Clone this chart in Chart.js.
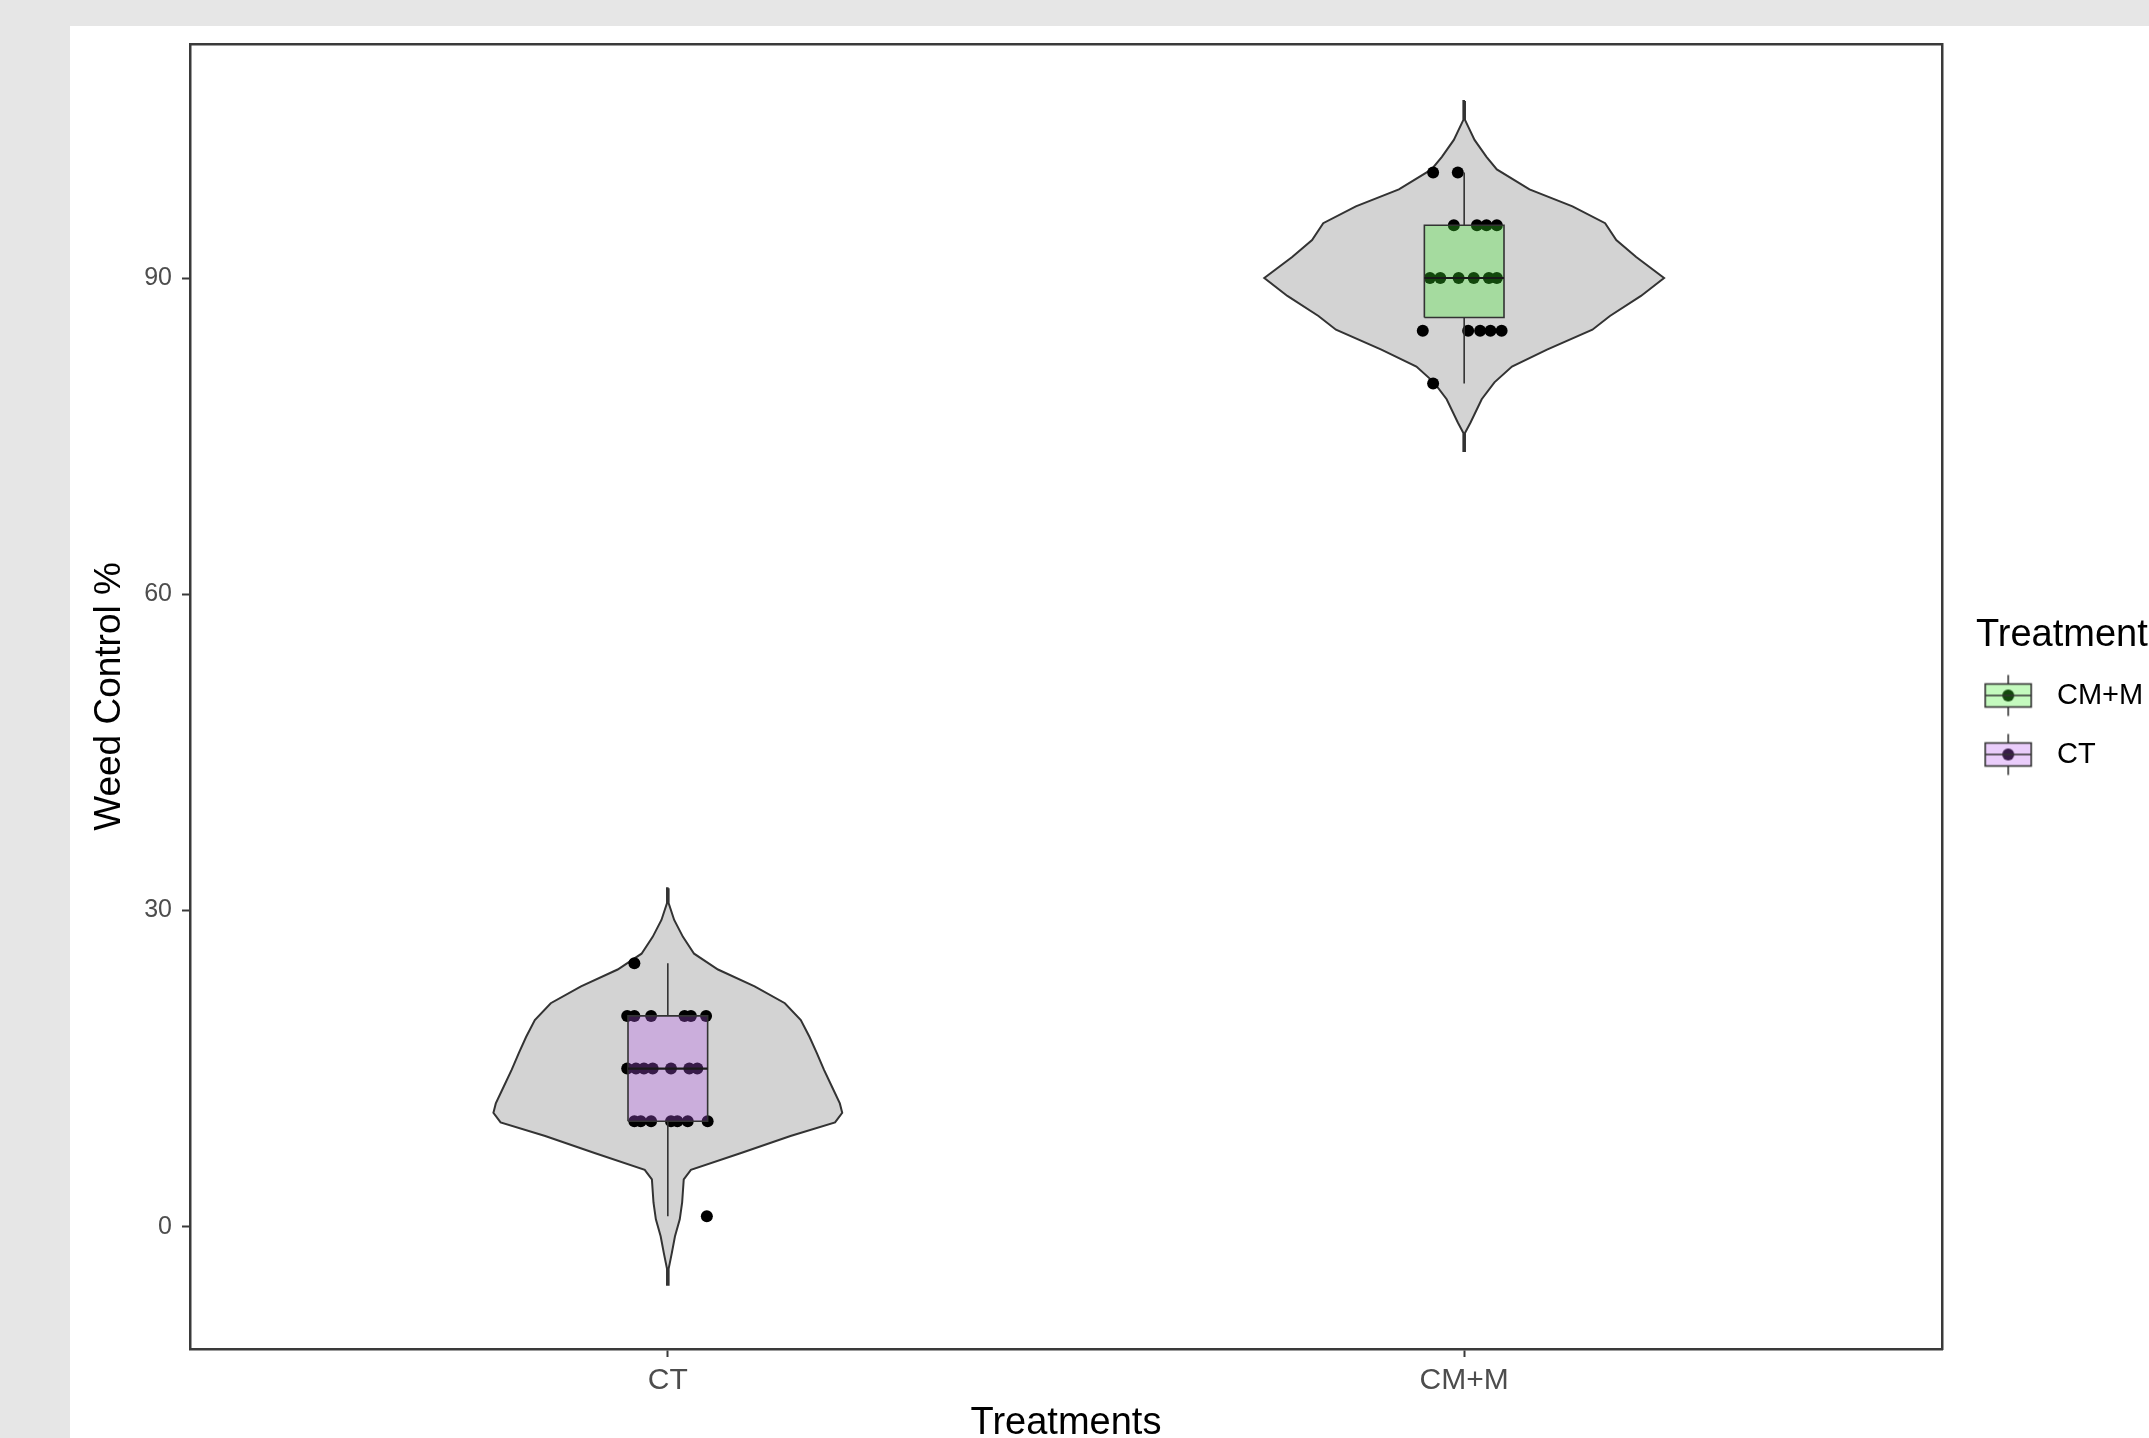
<!DOCTYPE html>
<html><head><meta charset="utf-8">
<script src="https://cdn.jsdelivr.net/npm/chart.js@4.4.0/dist/chart.umd.min.js"></script>
<style>
html,body{margin:0;padding:0;background:#E6E6E6;width:2149px;height:1438px;overflow:hidden;}
#panel{position:absolute;left:70px;top:26px;width:2079px;height:1412px;background:#ffffff;overflow:hidden;}
canvas{display:block;}
</style></head><body>
<div id="panel"><canvas id="c" width="2079" height="1412"></canvas></div>
<script>
// ---------------- data ----------------
const categories = ['CT', 'CM+M'];
const legendLabels = ['CM+M', 'CT'];
const yTickValues = [0, 30, 60, 90];

const ctValues = [25, 20, 20, 20, 20, 20, 20, 15, 15, 15, 15, 15, 15, 15, 10, 10, 10, 10, 10, 10, 10, 1];
const ctJitter = [-0.042, -0.051, -0.042, -0.021, 0.021, 0.029, 0.048, -0.051, -0.040, -0.030, -0.019, 0.004, 0.027, 0.037, -0.042, -0.034, -0.021, 0.004, 0.012, 0.025, 0.050, 0.049];
const cmValues = [100, 100, 95, 95, 95, 95, 90, 90, 90, 90, 90, 90, 85, 85, 85, 85, 85, 80];
const cmJitter = [-0.039, -0.008, -0.013, 0.016, 0.028, 0.041, -0.043, -0.030, -0.007, 0.012, 0.031, 0.041, -0.052, 0.005, 0.020, 0.033, 0.047, -0.039];

// box-plot statistics, in category order [CT, CM+M]
const whiskerLow = [1, 80];
const boxQ1 = [10, 86.25];
const boxMedian = [15, 90];
const boxQ3 = [20, 95];
const whiskerHigh = [25, 100];

// violin outlines: y levels and half-widths (category units)
const ctViolinY = [32.1, 30.7, 29.1, 27.5, 25.9, 24.4, 22.8, 21.2, 19.6, 18.0, 16.5, 14.9, 13.3, 11.7, 10.8, 9.9, 8.6, 7.0, 5.4, 4.5, 2.3, 0.7, -0.9, -2.5, -4.0, -5.5];
const ctViolinHalf = [0.001, 0.001, 0.008, 0.019, 0.033, 0.063, 0.109, 0.147, 0.167, 0.178, 0.187, 0.196, 0.206, 0.216, 0.219, 0.210, 0.154, 0.092, 0.029, 0.020, 0.018, 0.015, 0.009, 0.005, 0.001, 0.001];
const cmViolinY = [106.8, 105.0, 103.1, 101.5, 100.3, 98.4, 96.8, 95.2, 93.6, 92.0, 90.0, 88.3, 86.4, 85.1, 83.2, 81.6, 80.1, 78.5, 76.3, 75.3, 73.6];
const cmViolinHalf = [0.001, 0.001, 0.013, 0.028, 0.041, 0.082, 0.136, 0.177, 0.191, 0.216, 0.251, 0.222, 0.183, 0.161, 0.104, 0.060, 0.038, 0.022, 0.008, 0.001, 0.001];

// ---------------- styling ----------------
const FONT = "'Liberation Sans', Arial, Helvetica, sans-serif";
const INK = '#333333';
const FRAME = '#3a3a3a';
const boxFills = ['rgba(184,88,241,0.30)', 'rgba(61,237,41,0.30)']; // CT, CM+M
const legendFills = {'CM+M': boxFills[1], 'CT': boxFills[0]};
const BOX_HALF = 0.05;

Chart.defaults.font.family = FONT;

function catPos(i) { return i + 1; }

function violinPolygon(center, ys, halves) {
  const pts = [];
  for (let i = 0; i < ys.length; i++) pts.push({x: center + halves[i], y: ys[i]});
  for (let i = ys.length - 1; i >= 0; i--) pts.push({x: center - halves[i], y: ys[i]});
  pts.push({x: center + halves[0], y: ys[0]});
  return pts;
}
function boxPolygon(i) {
  const c = catPos(i);
  return [
    {x: c - BOX_HALF, y: boxQ1[i]}, {x: c + BOX_HALF, y: boxQ1[i]},
    {x: c + BOX_HALF, y: boxQ3[i]}, {x: c - BOX_HALF, y: boxQ3[i]},
    {x: c - BOX_HALF, y: boxQ1[i]}
  ];
}
function whiskerSegments() {
  const pts = [];
  categories.forEach((_, i) => {
    const c = catPos(i);
    pts.push({x: c, y: whiskerHigh[i]}, {x: c, y: boxQ3[i]}, {x: c, y: null});
    pts.push({x: c, y: boxQ1[i]}, {x: c, y: whiskerLow[i]}, {x: c, y: null});
  });
  return pts;
}
function medianSegments() {
  const pts = [];
  categories.forEach((_, i) => {
    const c = catPos(i);
    pts.push({x: c - BOX_HALF, y: boxMedian[i]}, {x: c + BOX_HALF, y: boxMedian[i]}, {x: c, y: null});
  });
  return pts;
}
function jittered(i, values, jitter) {
  return values.map((v, k) => ({x: catPos(i) + jitter[k], y: v}));
}

function makeKey(fill) {
  const cv = document.createElement('canvas');
  cv.width = 100; cv.height = 50;
  const g = cv.getContext('2d');
  const cx = 34, cy = 25, bw = 46, bh = 23;
  g.strokeStyle = INK; g.lineWidth = 1.6;
  g.beginPath();
  g.moveTo(cx, cy - bh / 2 - 9); g.lineTo(cx, cy - bh / 2);
  g.moveTo(cx, cy + bh / 2); g.lineTo(cx, cy + bh / 2 + 9);
  g.stroke();
  g.fillStyle = '#000';
  g.beginPath(); g.arc(cx, cy, 6, 0, Math.PI * 2); g.fill();
  g.fillStyle = fill;
  g.fillRect(cx - bw / 2, cy - bh / 2, bw, bh);
  g.strokeRect(cx - bw / 2, cy - bh / 2, bw, bh);
  g.beginPath(); g.moveTo(cx - bw / 2, cy); g.lineTo(cx + bw / 2, cy); g.stroke();
  return cv;
}

const lineBase = {type: 'line', showLine: true, pointRadius: 0, pointHoverRadius: 0, tension: 0, spanGaps: false};

const datasets = [
  Object.assign({}, lineBase, {label: 'violin CT', data: violinPolygon(catPos(0), ctViolinY, ctViolinHalf),
    fill: 'shape', backgroundColor: '#D3D3D3', borderColor: INK, borderWidth: 2, order: 10}),
  Object.assign({}, lineBase, {label: 'violin CM+M', data: violinPolygon(catPos(1), cmViolinY, cmViolinHalf),
    fill: 'shape', backgroundColor: '#D3D3D3', borderColor: INK, borderWidth: 2, order: 9}),
  {type: 'scatter', label: 'points CT', data: jittered(0, ctValues, ctJitter), pointRadius: 6, pointHoverRadius: 6,
    backgroundColor: '#000', borderWidth: 0, order: 8},
  {type: 'scatter', label: 'points CM+M', data: jittered(1, cmValues, cmJitter), pointRadius: 6, pointHoverRadius: 6,
    backgroundColor: '#000', borderWidth: 0, order: 7},
  Object.assign({}, lineBase, {label: 'whiskers', data: whiskerSegments(), fill: false, borderColor: INK, borderWidth: 1.6, order: 6}),
  Object.assign({}, lineBase, {label: 'box CT', data: boxPolygon(0), fill: 'shape', backgroundColor: boxFills[0], borderColor: INK, borderWidth: 1.6, order: 5}),
  Object.assign({}, lineBase, {label: 'box CM+M', data: boxPolygon(1), fill: 'shape', backgroundColor: boxFills[1], borderColor: INK, borderWidth: 1.6, order: 4}),
  Object.assign({}, lineBase, {label: 'median', data: medianSegments(), fill: false, borderColor: '#1a1a1a', borderWidth: 2.2, order: 3})
];

const dummyAxis = (pos, size) => ({
  type: 'linear', position: pos, min: 0, max: 1,
  afterBuildTicks: s => { s.ticks = []; },
  ticks: {display: false},
  grid: {display: false, drawOnChartArea: false, drawTicks: false},
  border: {display: true, color: FRAME, width: 2.5},
  afterFit: s => { if (s.isHorizontal()) s.height = size; else s.width = size; }
});

new Chart(document.getElementById('c'), {
  type: 'scatter',
  data: {datasets},
  options: {
    responsive: false, animation: false, devicePixelRatio: 1, events: [],
    layout: {padding: {top: 18, left: 0, right: 0, bottom: 0}},
    scales: {
      x: {
        type: 'linear', position: 'bottom', min: 0.4, max: 2.6,
        afterBuildTicks: s => { s.ticks = categories.map((_, i) => ({value: catPos(i)})); },
        ticks: {autoSkip: false, color: '#4D4D4D', font: {size: 30}, padding: 6,
          callback: v => categories[Math.round(v) - 1]},
        grid: {display: true, drawOnChartArea: false, drawTicks: true, tickLength: 8, tickColor: FRAME, tickWidth: 2},
        border: {display: true, color: FRAME, width: 2.5},
        title: {display: true, text: 'Treatments', color: '#000', font: {size: 38, lineHeight: 1}, padding: {top: 0, bottom: -5}},
        afterFit: s => { s.height = 89; }
      },
      y: {
        type: 'linear', position: 'left', min: -11.6, max: 112.2,
        afterBuildTicks: s => { s.ticks = yTickValues.map(v => ({value: v})); },
        ticks: {color: '#4D4D4D', font: {size: 25, lineHeight: 0.2}, padding: 10},
        grid: {display: true, drawOnChartArea: false, drawTicks: true, tickLength: 8, tickColor: FRAME, tickWidth: 2},
        border: {display: true, color: FRAME, width: 2.5},
        title: {display: true, text: 'Weed Control %', color: '#000', font: {size: 37, lineHeight: 1.2}, padding: {top: 18, bottom: 0}},
        afterFit: s => { s.width = 120; }
      },
      xTop: dummyAxis('top', 0),
      yRight: dummyAxis('right', 34)
    },
    plugins: {
      tooltip: {enabled: false},
      legend: {
        display: true, position: 'right', align: 'center', fullSize: false, maxWidth: 173,
        onClick: null,
        title: {display: true, text: 'Treatment', position: 'start', color: '#000',
          font: {size: 38, lineHeight: 1}, padding: {top: 23, bottom: -4}},
        labels: {
          usePointStyle: true, pointStyleWidth: 36.5, padding: 30, color: '#000', font: {size: 29},
          generateLabels: () => legendLabels.map(t => ({
            text: t, pointStyle: makeKey(legendFills[t]), fontColor: '#000',
            fillStyle: 'transparent', strokeStyle: 'transparent', lineWidth: 0, hidden: false
          }))
        }
      }
    }
  }
});
</script>
</body></html>
